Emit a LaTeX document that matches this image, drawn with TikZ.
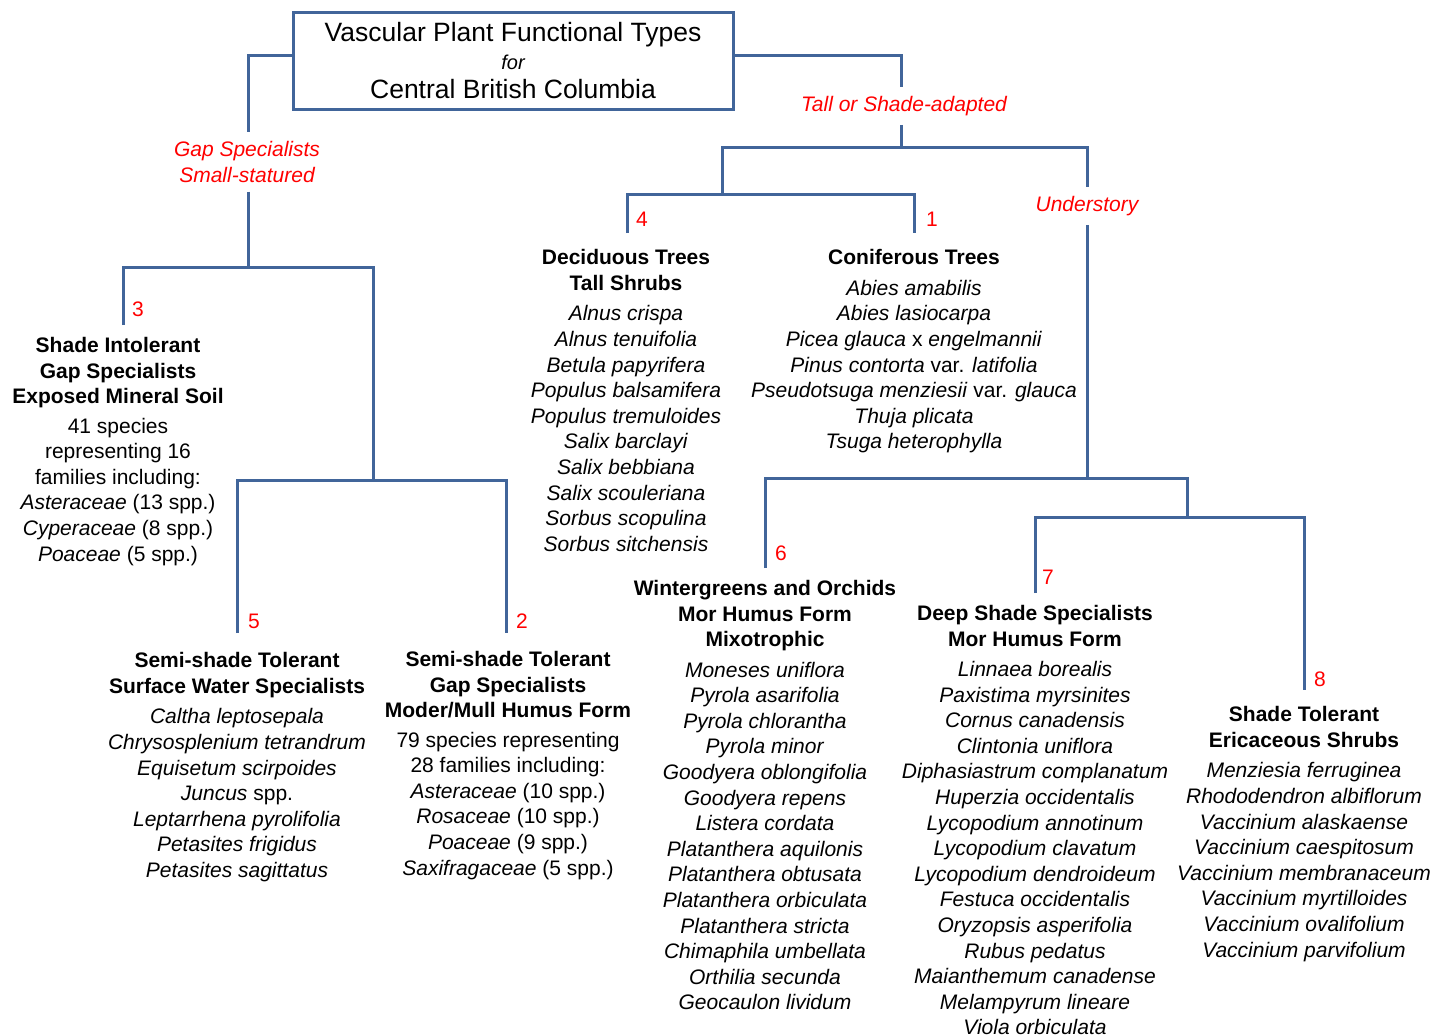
\documentclass[tikz,border=0pt]{standalone}
\usepackage{fontspec}
\setmainfont{Liberation Sans}
\usetikzlibrary{positioning}
\definecolor{cline}{HTML}{41659A}
\definecolor{cred}{HTML}{FF0000}
\tikzset{
  every picture/.style={line width=3pt},
  edge/.style={draw=cline, line width=3pt},
  titlebox/.style={draw=cline, line width=3pt, minimum width=440pt, minimum height=97pt, align=center, inner sep=0pt,
    font=\fontsize{26.5}{28.5}\selectfont},
  branch/.style={text=cred, font=\fontsize{21}{25.6}\selectfont\itshape, align=center, inner sep=7.5pt},
  num/.style={text=cred, font=\fontsize{21}{24}\selectfont, inner sep=0pt},
  group/.style={align=center, inner sep=0pt, anchor=north, font=\fontsize{21}{25.6}\selectfont},
}
\newcommand{\hd}[1]{\textbf{#1}}
\newcommand{\spc}[1]{\textit{#1}}

\begin{document}
\begin{tikzpicture}[x=1pt, y=-1pt]
  \useasboundingbox (0,0) rectangle (1449,1034);
  % title
  \node[titlebox] (title) at (513,60.5) {Vascular Plant Functional Types\\
    {\fontsize{20}{28.5}\selectfont\itshape for}\\
    Central British Columbia};
  % branch labels
  \node[branch] (gap) at (247,162) {Gap Specialists\\Small-statured};
  \node[branch] (tall) at (904,106) {Tall or Shade-adapted};
  \node[branch] (under) at (1087,206) {Understory};
  % groups
  \node[group] (g3) at (118,336) {\hd{Shade Intolerant}\\ \hd{Gap Specialists}\\ \hd{Exposed Mineral Soil}\\[3.5pt]
    41 species\\ representing 16\\ families including:\\ \spc{Asteraceae} (13 spp.)\\ \spc{Cyperaceae} (8 spp.)\\ \spc{Poaceae} (5 spp.)};
  \node[group] (g5) at (237,651) {\hd{Semi-shade Tolerant}\\ \hd{Surface Water Specialists}\\[5pt]
    \spc{Caltha leptosepala}\\ \spc{Chrysosplenium tetrandrum}\\ \spc{Equisetum scirpoides}\\ \spc{Juncus} spp.\\
    \spc{Leptarrhena pyrolifolia}\\ \spc{Petasites frigidus}\\ \spc{Petasites sagittatus}};
  \node[group] (g2) at (508,650) {\hd{Semi-shade Tolerant}\\ \hd{Gap Specialists}\\ \hd{Moder/Mull Humus Form}\\[3.5pt]
    79 species representing\\ 28 families including:\\ \spc{Asteraceae} (10 spp.)\\ \spc{Rosaceae} (10 spp.)\\
    \spc{Poaceae} (9 spp.)\\ \spc{Saxifragaceae} (5 spp.)};
  \node[group] (g4) at (626,248) {\hd{Deciduous Trees}\\ \hd{Tall Shrubs}\\[5pt]
    \spc{Alnus crispa}\\ \spc{Alnus tenuifolia}\\ \spc{Betula papyrifera}\\ \spc{Populus balsamifera}\\ \spc{Populus tremuloides}\\
    \spc{Salix barclayi}\\ \spc{Salix bebbiana}\\ \spc{Salix scouleriana}\\ \spc{Sorbus scopulina}\\ \spc{Sorbus sitchensis}};
  \node[group] (g1) at (914,248) {\hd{Coniferous Trees}\\[5pt]
    \spc{Abies amabilis}\\ \spc{Abies lasiocarpa}\\ \spc{Picea glauca} x \spc{engelmannii}\\ \spc{Pinus contorta} var. \spc{latifolia}\\
    \spc{Pseudotsuga menziesii} var. \spc{glauca}\\ \spc{Thuja plicata}\\ \spc{Tsuga heterophylla}};
  \node[group] (g6) at (765,579) {\hd{Wintergreens and Orchids}\\ \hd{Mor Humus Form}\\ \hd{Mixotrophic}\\[4.5pt]
    \spc{Moneses uniflora}\\ \spc{Pyrola asarifolia}\\ \spc{Pyrola chlorantha}\\ \spc{Pyrola minor}\\ \spc{Goodyera oblongifolia}\\
    \spc{Goodyera repens}\\ \spc{Listera cordata}\\ \spc{Platanthera aquilonis}\\ \spc{Platanthera obtusata}\\
    \spc{Platanthera orbiculata}\\ \spc{Platanthera stricta}\\ \spc{Chimaphila umbellata}\\ \spc{Orthilia secunda}\\ \spc{Geocaulon lividum}};
  \node[group] (g7) at (1035,604) {\hd{Deep Shade Specialists}\\ \hd{Mor Humus Form}\\[4.5pt]
    \spc{Linnaea borealis}\\ \spc{Paxistima myrsinites}\\ \spc{Cornus canadensis}\\ \spc{Clintonia uniflora}\\
    \spc{Diphasiastrum complanatum}\\ \spc{Huperzia occidentalis}\\ \spc{Lycopodium annotinum}\\ \spc{Lycopodium clavatum}\\
    \spc{Lycopodium dendroideum}\\ \spc{Festuca occidentalis}\\ \spc{Oryzopsis asperifolia}\\ \spc{Rubus pedatus}\\
    \spc{Maianthemum canadense}\\ \spc{Melampyrum lineare}\\ \spc{Viola orbiculata}};
  \node[group] (g8) at (1304,705) {\hd{Shade Tolerant}\\ \hd{Ericaceous Shrubs}\\[5pt]
    \spc{Menziesia ferruginea}\\ \spc{Rhododendron albiflorum}\\ \spc{Vaccinium alaskaense}\\ \spc{Vaccinium caespitosum}\\
    \spc{Vaccinium membranaceum}\\ \spc{Vaccinium myrtilloides}\\ \spc{Vaccinium ovalifolium}\\ \spc{Vaccinium parvifolium}};
  % line ends and junctions
  \coordinate (c3) at (123,325);  \coordinate (c5) at (237,633);  \coordinate (c2) at (506,633);
  \coordinate (c4) at (627,233);  \coordinate (c1) at (914,233);  \coordinate (c6) at (765,568);
  \coordinate (c7) at (1035,593); \coordinate (c8) at (1304,690);
  \coordinate (ja) at (248,267);  \coordinate (k52) at (373,480);
  \coordinate (jb) at (901,147);  \coordinate (k41) at (722,194);
  \coordinate (k6u) at (1087,478); \coordinate (k78) at (1187,517);
  % tree
  \draw[edge] ([yshift=5.5pt]title.west) -| (ja |- gap.north);
  \draw[edge] (ja |- gap.south) -- (ja);
  \draw[edge] (c3) |- (ja) -| (k52);
  \draw[edge] (c5) |- (k52) -| (c2);
  \draw[edge] ([yshift=5.5pt]title.east) -| (jb |- tall.north);
  \draw[edge] (jb |- tall.south) -- (jb);
  \draw[edge] (k41) |- (jb) -| (under.north);
  \draw[edge] (c4) |- (k41) -| (c1);
  \draw[edge] (under.south) -- (k6u);
  \draw[edge] (c6) |- (k6u) -| (k78);
  \draw[edge] (c7) |- (k78) -| (c8);
  % numbers
  \foreach \n/\x/\y in {3/138/309, 5/254/621, 2/522/621, 4/642/219, 1/932/219, 6/781/553, 7/1048/577, 8/1320/679}
    \node[num] (n\n) at (\x,\y) {\n};
\end{tikzpicture}
\end{document}
